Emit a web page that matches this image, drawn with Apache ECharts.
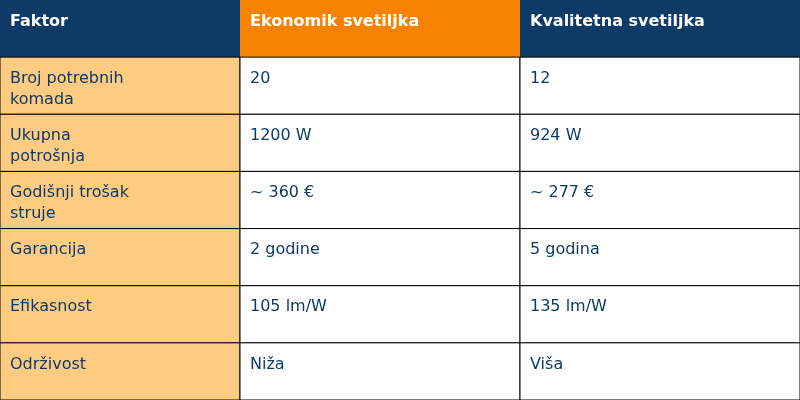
<!DOCTYPE html>
<html><head><meta charset="utf-8">
<script src="https://cdn.jsdelivr.net/npm/echarts@6/dist/echarts.min.js"></script>
<style>html,body{margin:0;padding:0}#c{width:800px;height:400px}</style>
</head><body><div id="c"></div>
<script>
const headers = ["Faktor", "Ekonomik svetiljka", "Kvalitetna svetiljka"];
const factors = ["Broj potrebnih\nkomada", "Ukupna\npotrošnja", "Godišnji trošak\nstruje", "Garancija", "Efikasnost", "Održivost"];
const economic = ["20", "1200 W", "~ 360 €", "2 godine", "105 lm/W", "Niža"];
const quality = ["12", "924 W", "~ 277 €", "5 godina", "135 lm/W", "Viša"];

const colEdges = [0, 240, 520, 800];
const rowCount = factors.length + 1;
const cells = [];
const table = [headers].concat(factors.map((f, i) => [f, economic[i], quality[i]]));
table.forEach((row, r) => row.forEach((txt, c) => cells.push([c, r, txt])));

const chart = echarts.init(document.getElementById('c'));
chart.setOption({
  animation: false,
  grid: {left: 0, right: 0, top: 0, bottom: 0},
  xAxis: {type: 'value', min: 0, max: 800, show: false},
  yAxis: {type: 'value', min: 0, max: 400, inverse: true, show: false},
  series: [{
    type: 'custom',
    data: cells,
    renderItem: function (params, api) {
      const c = api.value(0), r = api.value(1);
      const txt = cells[params.dataIndex][2];
      const rowH = 400 / rowCount;
      const p0 = api.coord([colEdges[c], r * rowH]);
      const p1 = api.coord([colEdges[c + 1], (r + 1) * rowH]);
      let fill = '#ffffff', color = '#0d3a66', weight = 'normal';
      if (r === 0) { fill = c === 1 ? '#f78200' : '#0d3a66'; color = '#ffffff'; weight = 'bold'; }
      else if (c === 0) fill = '#fecb82';
      return {
        type: 'group',
        children: [
          {type: 'rect', shape: {x: p0[0], y: p0[1], width: p1[0] - p0[0], height: p1[1] - p0[1]},
           style: {fill: fill, stroke: r === 0 ? null : '#000', lineWidth: 1}},
          {type: 'text', style: {x: p0[0] + 10, y: p0[1] + 11, text: txt, fill: color,
            fontFamily: 'DejaVu Sans', fontSize: 16, fontWeight: weight, lineHeight: 21,
            verticalAlign: 'top'}}
        ]
      };
    }
  }]
});
</script></body></html>
